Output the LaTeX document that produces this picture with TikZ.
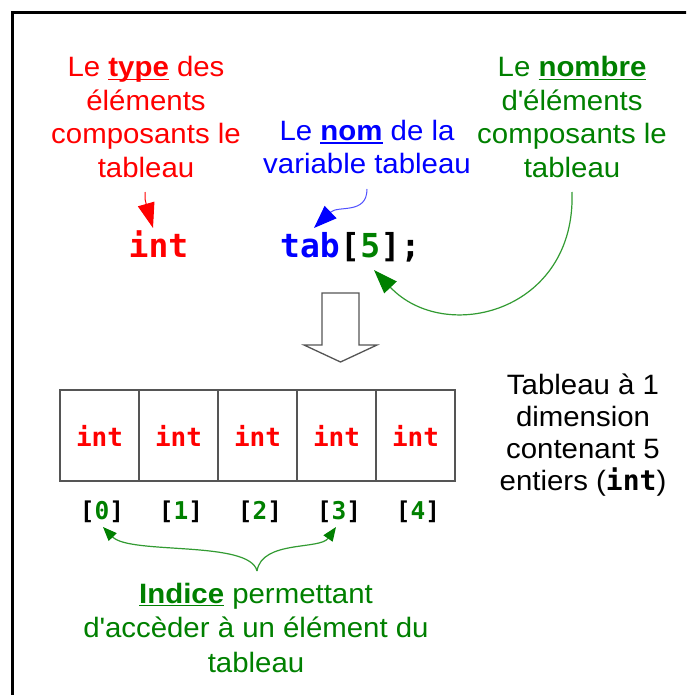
\documentclass[tikz,border=0pt]{standalone}
\usepackage{fontspec}
\setmainfont{Liberation Sans}[FakeStretch=1.05]
\newfontfamily\codefont{DejaVu Sans Mono}
\usetikzlibrary{arrows.meta,calc}

\definecolor{tred}{RGB}{255,0,0}
\definecolor{tblue}{RGB}{0,0,255}
\definecolor{tgreen}{RGB}{0,128,0}
\definecolor{lgreen}{RGB}{50,155,50}
\definecolor{lblue}{RGB}{80,80,255}
\definecolor{cellgray}{RGB}{85,85,85}

% bold word with a thick underline
\newcommand\ulbold[1]{\setbox0\hbox{\textbf{#1}}\rlap{\rule[-3.4pt]{\wd0}{1.6pt}}\box0\relax}
\newcommand\mono[1]{{\codefont\bfseries #1}}

\begin{document}
\begin{tikzpicture}[x=1pt,y=-1pt,
  note/.style={align=center, font=\fontsize{28}{33.4}\selectfont, inner sep=0pt, anchor=base},
  code/.style={font=\codefont\bfseries\fontsize{33}{38}\selectfont, inner sep=0pt, anchor=base west},
  cell/.style={draw=cellgray, line width=2pt, minimum width=79pt, minimum height=91pt,
    inner sep=0pt, anchor=north west, text=tred, font=\codefont\bfseries\fontsize{26}{30}\selectfont},
  idx/.style={font=\codefont\bfseries\fontsize{24.5}{28}\selectfont, inner sep=0pt, anchor=base},
  redarrow/.style={tred, line width=1pt, -{Triangle[length=25pt,width=17pt]}},
  bluearrow/.style={lblue, line width=1pt, -{Triangle[length=23pt,width=17pt,color=tblue]}},
  greenarrow/.style={lgreen, line width=1.2pt, -{Triangle[length=24pt,width=17pt,color=tgreen]}},
  bracearrow/.style={lgreen, line width=1.2pt, -{Triangle[length=14pt,width=11pt,color=tgreen]}},
]
\useasboundingbox (0,0) rectangle (686,695);
\clip (0,0) rectangle (686,695);
\fill[white] (0,0) rectangle (686,695);

% outer frame (runs past the right and bottom edges)
\draw[line width=3pt] (12.5,12.5) rectangle (720,730);

% annotations (anchored on the baseline of their last line)
\node[note, text=tred] (typenote) at (146,177)
  {Le \ulbold{type} des\\éléments\\composants le\\tableau};
\node[note, text=tblue] (nomnote) at (367,174)
  {Le \ulbold{nom} de la\\variable tableau};
\node[note, text=tgreen] (nbnote) at (572,177)
  {Le \ulbold{nombre}\\d\textquotesingle éléments\\composants le\\tableau};

% declaration
\node[code, text=tred] (inttype) at (128.5,257) {int};
\node[code, text=tblue] (tabname) at (280,257) {tab};
\node[code] (lbr) at (tabname.base east) {[};
\node[code, text=tgreen] (size) at (lbr.base east) {5};
\node[code] (rbr) at (size.base east) {];};

% connector end points
\coordinate (typefoot) at (145,192);
\coordinate (inttip) at (153,228);
\coordinate (nomfoot) at (367,189);
\coordinate (tabtip) at (314,228);
\coordinate (nbfoot) at (572,192);
\coordinate (sizetip) at (374,270);

\draw[redarrow] (typefoot) .. controls (145,200) .. (inttip);
\draw[bluearrow] (nomfoot) .. controls (367,215) and (338,205) .. (tabtip);
\draw[greenarrow] (nbfoot) .. controls (576,312) and (445,345) .. (sizetip);

% hollow arrow
\draw[cellgray, line width=1.3pt, fill=white, line join=miter]
  (322,293) -- (359,293) -- (359,345) -- (377,345) -- (340.5,362)
  -- (304,345) -- (322,345) -- cycle;

% the array cells
\foreach \i in {0,...,4} {
  \node[cell] (c\i) at (59+79*\i,389) {int};
  \node[idx] (i\i) at ($(c\i.south)+(2.5,37.5)$) {[\textcolor{tgreen}{\i}]};
}

\node[note, font=\fontsize{28}{31.7}\selectfont] (desc) at (583,490)
  {Tableau à 1\\dimension\\contenant 5\\entiers (\mono{int})};

% index brace
\coordinate (bracefoot) at (257,571);
\coordinate (tip0) at (103,527);
\coordinate (tip3) at (336,527);
\draw[bracearrow] (bracefoot) .. controls (250,540) and (130,555) .. (tip0);
\draw[bracearrow] (bracefoot) .. controls (262,540) and (320,550) .. (tip3);

\node[note, text=tgreen, font=\fontsize{28}{34.5}\selectfont] (idxnote) at (256,672)
  {\ulbold{Indice} permettant\\d\textquotesingle accèder à un élément du\\tableau};
\end{tikzpicture}
\end{document}
